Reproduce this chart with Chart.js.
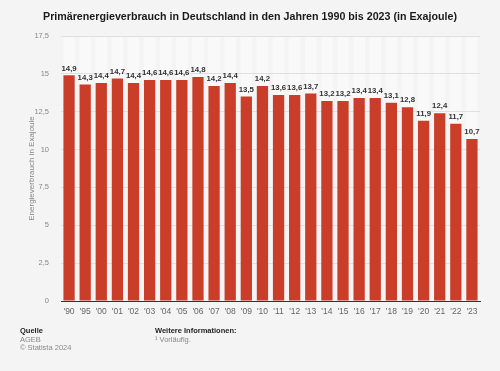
<!DOCTYPE html>
<html>
<head>
<meta charset="utf-8">
<script src="https://cdn.jsdelivr.net/npm/chart.js@4.4.1/dist/chart.umd.min.js"></script>
<style>
  html, body { margin: 0; padding: 0; background: #f4f4f4; }
  #wrap { width: 500px; height: 371px; position: relative; }
</style>
</head>
<body>
<div id="wrap"><canvas id="energyChart" width="500" height="371"></canvas></div>
<script>
const years = ["'90", "'95", "'00", "'01", "'02", "'03", "'04", "'05", "'06", "'07", "'08", "'09", "'10",
  "'11", "'12", "'13", "'14", "'15", "'16", "'17", "'18", "'19", "'20", "'21", "'22", "'23"];
const consumption = [14.9, 14.3, 14.4, 14.7, 14.4, 14.6, 14.6, 14.6, 14.8, 14.2, 14.4, 13.5, 14.2,
  13.6, 13.6, 13.7, 13.2, 13.2, 13.4, 13.4, 13.1, 12.8, 11.9, 12.4, 11.7, 10.7];
const yTicks = [0, 2.5, 5, 7.5, 10, 12.5, 15, 17.5];

const titleText = 'Primärenergieverbrauch in Deutschland in den Jahren 1990 bis 2023 (in Exajoule)';
const fontFamily = '"Liberation Sans", Arial, sans-serif';

const fmt = v => String(v).replace('.', ',');

// background bands, title, value labels and footer
const decorations = {
  id: 'decorations',
  beforeDraw(chart) {
    const { ctx, chartArea, scales } = chart;
    const x = scales.x;
    const step = x.width / years.length;
    ctx.save();
    ctx.fillStyle = '#f9f9f9';
    years.forEach((_, i) => {
      const cx = x.getPixelForValue(i);
      ctx.fillRect(cx - step * 0.36, chartArea.top, step * 0.72, chartArea.bottom - chartArea.top);
    });
    ctx.restore();
  },
  afterDraw(chart) {
    const { ctx } = chart;
    ctx.save();
    ctx.fillStyle = '#1a1a1a';
    ctx.font = 'bold 10.7px ' + fontFamily;
    ctx.textAlign = 'center';
    ctx.textBaseline = 'middle';
    ctx.fillText(titleText, 250, 17);

    // value labels
    ctx.fillStyle = '#333';
    ctx.font = 'bold 7.8px ' + fontFamily;
    ctx.textBaseline = 'bottom';
    chart.getDatasetMeta(0).data.forEach((bar, i) => {
      ctx.fillText(fmt(consumption[i]), bar.x, bar.y - 3);
    });

    // footer
    ctx.textAlign = 'left';
    ctx.textBaseline = 'middle';
    ctx.fillStyle = '#222';
    ctx.font = 'bold 7.5px ' + fontFamily;
    ctx.fillText('Quelle', 20, 331);
    ctx.fillText('Weitere Informationen:', 155, 331);
    ctx.fillStyle = '#888';
    ctx.font = '7.5px ' + fontFamily;
    ctx.fillText('AGEB', 20, 339.5);
    ctx.fillText('© Statista 2024', 20, 347.5);
    ctx.fillText('¹ Vorläufig.', 155, 339.5);
    ctx.restore();
  }
};

const EnergyChart = new Chart(document.getElementById('energyChart'), {
  type: 'bar',
  data: {
    labels: years,
    datasets: [{
      data: consumption,
      backgroundColor: '#c93d29',
      borderWidth: 0,
      barPercentage: 0.7,
      categoryPercentage: 1
    }]
  },
  options: {
    responsive: false,
    animation: false,
    devicePixelRatio: 1,
    layout: { padding: { top: 36, right: 20, left: 27, bottom: 0 } },
    plugins: { legend: { display: false }, tooltip: { enabled: false } },
    scales: {
      x: {
        grid: { display: false, drawTicks: false },
        border: { display: true, color: '#333', width: 1 },
        ticks: { color: '#666', font: { size: 8.5, family: fontFamily }, padding: 6, maxRotation: 0, autoSkip: false },
        afterFit(scale) { scale.height = 70; }
      },
      y: {
        min: 0,
        max: 17.5,
        afterBuildTicks(scale) { scale.ticks = yTicks.map(v => ({ value: v })); },
        grid: { color: '#e0e0e0', drawTicks: false, lineWidth: 1 },
        border: { display: false },
        ticks: {
          color: '#888',
          font: { size: 7.5, family: fontFamily },
          padding: 12,
          callback: v => fmt(v)
        },
        title: {
          display: true,
          text: 'Energieverbrauch in Exajoule',
          color: '#888',
          font: { size: 8, family: fontFamily },
          padding: { top: 0, bottom: 4 }
        },
        afterFit(scale) { scale.width = 34; }
      }
    }
  },
  plugins: [decorations]
});
</script>
</body>
</html>
